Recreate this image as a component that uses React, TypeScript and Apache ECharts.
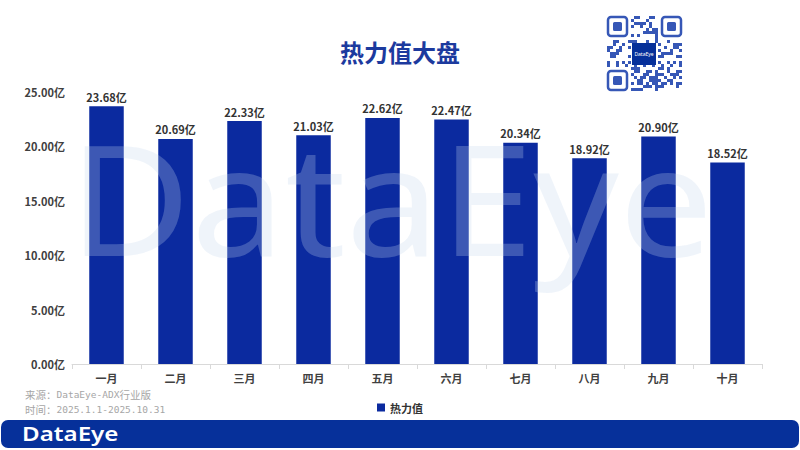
import React, { useEffect, useRef } from "react";
import * as echarts from "echarts";

const categories = ["一月", "二月", "三月", "四月", "五月", "六月", "七月", "八月", "九月", "十月"];
const heatValues = [23.68, 20.69, 22.33, 21.03, 22.62, 22.47, 20.34, 18.92, 20.9, 18.52];
const seriesName = "热力值";
const titleText = "热力值大盘";
const sourceLines = [
  ["来源：", "DataEye-ADX", "行业版"],
  ["时间：", "2025.1.1-2025.10.31", ""],
];

const BAR = "#0b2a9f";
const DARK = "#06309a";

function buildQR(): any[] {
  const els: any[] = [];
  const ox = 607, oy = 16, m = 3, n = 25;
  const qc = "#3657b6";
  const finder = (fx: number, fy: number) => {
    els.push({ type: "rect", shape: { x: ox + fx * m + 1, y: oy + fy * m + 1, width: 7 * m - 2, height: 7 * m - 2, r: 3 }, style: { fill: "none", stroke: qc, lineWidth: 2.5 }, z: 120 });
    els.push({ type: "rect", shape: { x: ox + fx * m + 6, y: oy + fy * m + 6, width: 9, height: 9, r: 1.5 }, style: { fill: qc }, z: 120 });
  };
  const inFinder = (i: number, j: number) =>
    (i < 8 && j < 8) || (i > 16 && j < 8) || (i < 8 && j > 16);
  const inCenter = (i: number, j: number) => i >= 8 && i <= 16 && j >= 9 && j <= 15;
  for (let j = 0; j < n; j++) {
    for (let i = 0; i < n; i++) {
      if (inFinder(i, j) || inCenter(i, j)) continue;
      const h = (i * 31 + j * 17 + ((i * j) % 7) + ((i ^ j) % 5)) % 5;
      if (h === 0 || h === 3) {
        els.push({ type: "rect", shape: { x: ox + i * m, y: oy + j * m, width: m, height: m }, style: { fill: qc }, z: 120 });
      }
    }
  }
  finder(0, 0);
  finder(18, 0);
  finder(0, 18);
  els.push({ type: "rect", shape: { x: 632, y: 43, width: 24, height: 22 }, style: { fill: DARK }, z: 121 });
  els.push({ type: "text", x: 644, y: 54, style: { text: "DataEye", fill: "#fff", fontSize: 5, fontFamily: "Noto Sans", align: "center", verticalAlign: "middle" }, z: 122 });
  return els;
}

export default function App() {
  const ref = useRef<HTMLDivElement>(null);
  useEffect(() => {
    if (!ref.current) return;
    const chart = echarts.init(ref.current, undefined, { renderer: "svg" });
    const cjk = "'Noto Sans CJK SC', 'Noto Sans', sans-serif";
    const sourceTexts = sourceLines.map((l, i) => ({
      type: "text",
      x: 25,
      y: 394 + i * 15,
      style: {
        text: `{c|${l[0]}}{m|${l[1]}}${l[2] ? `{c|${l[2]}}` : ""}`,
        rich: {
          c: { fontSize: 10.5, fill: "#a6a6a6", fontFamily: cjk, lineHeight: 11 },
          m: { fontSize: 9.5, fill: "#a6a6a6", fontFamily: "'DejaVu Sans Mono', monospace", lineHeight: 11 },
        },
        verticalAlign: "middle",
      },
    }));
    chart.setOption({
      animation: false,
      backgroundColor: "#ffffff",
      title: {
        text: titleText,
        left: "center",
        top: 34,
        textStyle: { color: "#1c3a9e", fontSize: 24, fontWeight: "bold", fontFamily: cjk },
      },
      legend: {
        data: [seriesName],
        left: "center",
        top: 397,
        icon: "rect",
        itemWidth: 8,
        itemHeight: 8,
        itemGap: 6,
        textStyle: { color: "#333", fontSize: 11, fontWeight: "bold", fontFamily: cjk },
      },
      grid: { left: 72, right: 38, top: 92, bottom: 86, containLabel: false },
      xAxis: {
        type: "category",
        data: categories,
        axisLine: { lineStyle: { color: "#d9d9d9" } },
        axisTick: { show: true, length: 5, lineStyle: { color: "#d9d9d9" } },
        axisLabel: { color: "#404040", fontSize: 11, fontWeight: "bold", fontFamily: cjk, margin: 8 },
      },
      yAxis: {
        type: "value",
        min: 0,
        max: 25,
        interval: 5,
        splitLine: { show: false },
        axisLine: { show: false },
        axisTick: { show: false },
        axisLabel: {
          color: "#404040",
          fontSize: 11,
          fontWeight: "bold",
          fontFamily: cjk,
          margin: 7,
          formatter: (v: number) => v.toFixed(2) + "亿",
        },
      },
      series: [
        {
          name: seriesName,
          type: "bar",
          data: heatValues,
          barWidth: "50%",
          itemStyle: { color: BAR },
          label: {
            show: true,
            position: "top",
            distance: 4,
            color: "#333",
            fontSize: 11,
            fontWeight: "bold",
            fontFamily: cjk,
            formatter: (p: any) => Number(p.value).toFixed(2) + "亿",
          },
        },
      ],
      graphic: [
        {
          type: "text",
          x: 391,
          y: 196,
          scaleX: 1.09,
          scaleY: 1,
          z: 100,
          silent: true,
          style: {
            text: "DataEye",
            fill: "rgba(196,214,236,0.27)",
            fontSize: 154,
            fontFamily: "'Noto Sans', sans-serif",
            align: "center",
            verticalAlign: "middle",
          },
        },
        ...sourceTexts,
        {
          type: "rect",
          shape: { x: 1, y: 420, width: 798, height: 28, r: 7 },
          style: { fill: DARK },
          z: 110,
        },
        {
          type: "text",
          x: 22,
          y: 434,
          scaleX: 1.27,
          scaleY: 1,
          z: 111,
          style: {
            text: "DataEye",
            fill: "#ffffff",
            fontSize: 19,
            fontWeight: 600,
            fontFamily: "'Noto Sans', sans-serif",
            verticalAlign: "middle",
          },
        },
        ...buildQR(),
      ],
    });
    return () => chart.dispose();
  }, []);
  return <div ref={ref} style={{ position: "absolute", left: 0, top: 0, width: 800, height: 450 }} />;
}
